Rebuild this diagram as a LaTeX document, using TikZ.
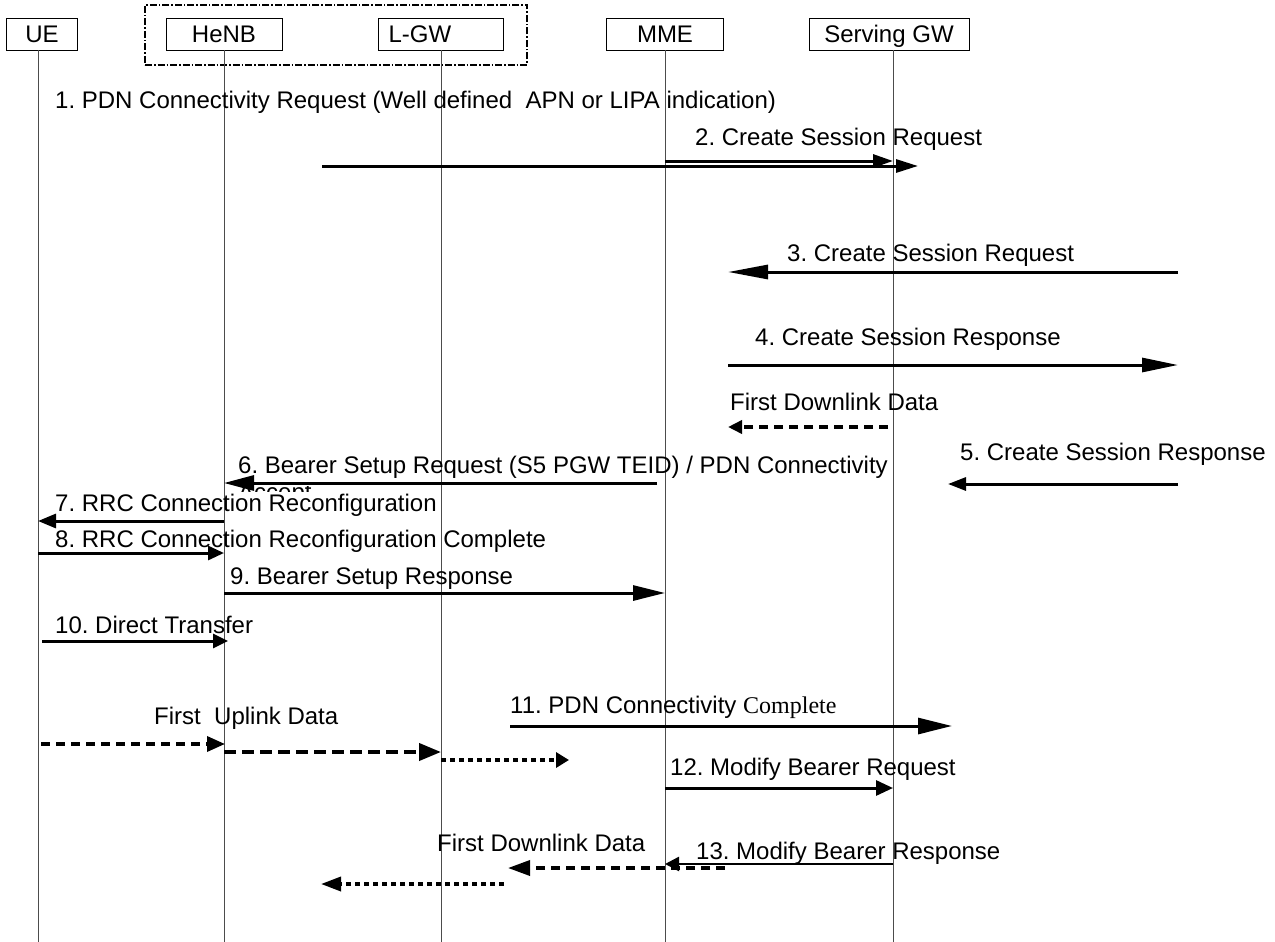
\documentclass[tikz,border=0pt]{standalone}
\usepackage{fontspec}
\setmainfont{Liberation Sans}
\newfontfamily\timesfont{Liberation Serif}
\usetikzlibrary{arrows.meta}
\frenchspacing
\begin{document}
\begin{tikzpicture}[x=1pt,y=-1pt,
  every node/.style={font=\fontsize{24}{28}\selectfont},
  entity/.style={draw, line width=0.8pt, minimum height=32pt, inner sep=0pt,
                 text height=20pt, text depth=3pt},
  group/.style={draw, line width=1.2pt, dash pattern=on 7pt off 2pt on 1.5pt off 2pt},
  life/.style={draw=black!70, line width=0.8pt},
  lbl/.style={anchor=base west, inner sep=0pt},
  msg/.style n args={2}{line width=3pt, -{Triangle[length=#1,width=#2]}},
  dmsg/.style n args={2}{line width=3.5pt, dash pattern=on 9pt off 6pt, -{Triangle[length=#1,width=#2]}},
  dotmsg/.style n args={2}{line width=3.5pt, dash pattern=on 5pt off 4pt, -{Triangle[length=#1,width=#2]}},
]
\useasboundingbox (0,0) rectangle (1275,942);

% entities
\node[group, minimum width=382pt, minimum height=60pt, inner sep=0pt] (loc) at (336,35) {};
\node[entity, minimum width=71pt] (ue) at (42,34) {UE};
\node[entity, minimum width=116pt] (henb) at (224,34) {HeNB};
\node[entity, minimum width=125pt, text width=105pt, align=left] (lgw) at (441,34) {L-GW};
\node[entity, minimum width=117pt] (mme) at (665,34) {MME};
\node[entity, minimum width=160pt] (sgw) at (889,34) {Serving GW};

% lifelines
\coordinate (ueb) at (38,942);
\coordinate (henbb) at (224,942);
\coordinate (lgwb) at (441,942);
\coordinate (mmeb) at (665,942);
\coordinate (sgwb) at (893,942);
\draw[life] (ue.south -| ueb) -- (ueb);
\draw[life] (henb.south) -- (henbb);
\draw[life] (lgw.south) -- (lgwb);
\draw[life] (mme.south) -- (mmeb);
\draw[life] (sgw.south -| sgwb) -- (sgwb);

% free ends of connectors
\coordinate (m1s) at (322,166);  \coordinate (m1e) at (918,166);
\coordinate (m3s) at (1178,272); \coordinate (m3e) at (728,272);
\coordinate (m4s) at (728,365);  \coordinate (m4e) at (1178,365);
\coordinate (d1s) at (888,427);  \coordinate (d1e) at (728,427);
\coordinate (m5s) at (1178,484); \coordinate (m5e) at (948,484);
\coordinate (m6s) at (657,483);
\coordinate (m10s) at (42,641);  \coordinate (m10e) at (228,641);
\coordinate (m11s) at (510,726); \coordinate (m11e) at (952,726);
\coordinate (u1s) at (41,744);   \coordinate (u1e) at (225,744);
\coordinate (u3e) at (569,760);
\coordinate (d2s) at (725,868);  \coordinate (d2e) at (508,868);
\coordinate (d3s) at (504,884);  \coordinate (d3e) at (321,884);

% labels
\node[lbl] (t1) at (55,108) {1. PDN Connectivity Request (Well defined\ \ APN or LIPA indication)};
\node[lbl] (t2) at (695,145) {2. Create Session Request};
\node[lbl] (t3) at (787,261) {3. Create Session Request};
\node[lbl] (t4) at (755,345) {4. Create Session Response};
\node[lbl] (tf1) at (730,410) {First Downlink Data};
\node[lbl] (t5) at (960,460) {5. Create Session Response};
\node[lbl] (t6) at (238,473) {6. Bearer Setup Request (S5 PGW TEID) / PDN Connectivity};
\begin{scope}
  \clip (230,486) rectangle (330,491);
  \node[lbl] (t6b) at (238,500) {Accept};
\end{scope}
\node[lbl] (t7) at (55,511) {7. RRC Connection Reconfiguration};
\node[lbl] (t8) at (55,547) {8. RRC Connection Reconfiguration Complete};
\node[lbl] (t9) at (230,584) {9. Bearer Setup Response};
\node[lbl] (t10) at (55,633) {10. Direct Transfer};
\node[lbl] (t11) at (510,713) {11. PDN Connectivity {\timesfont Complete}};
\node[lbl] (tu) at (154,724) {First\ \ Uplink Data};
\node[lbl] (t12) at (670,775) {12. Modify Bearer Request};
\node[lbl] (tf2) at (437,851) {First Downlink Data};
\node[lbl] (t13) at (696,859) {13. Modify Bearer Response};

% messages
\draw[msg={22pt}{13pt}] (m1s) -- (m1e);
\draw[msg={20pt}{13pt}] (mme |- 0,161) -- (sgwb |- 0,161);
\draw[msg={40pt}{14pt}] (m3s) -- (m3e);
\draw[msg={36pt}{14pt}] (m4s) -- (m4e);
\draw[dmsg={14pt}{13pt}] (d1s) -- (d1e);
\draw[msg={18pt}{13pt}] (m5s) -- (m5e);
\draw[msg={30pt}{15pt}] (m6s) -- (henb |- 0,483);
\draw[msg={18pt}{14pt}] (henb |- 0,521) -- (ueb |- 0,521);
\draw[msg={16pt}{14pt}] (ueb |- 0,553) -- (henb |- 0,553);
\draw[msg={32pt}{15pt}] (henb |- 0,593) -- (mme |- 0,593);
\draw[msg={15pt}{14pt}] (m10s) -- (m10e);
\draw[msg={34pt}{16pt}] (m11s) -- (m11e);
\draw[dmsg={18pt}{15pt}] (u1s) -- (u1e);
\draw[dmsg={22pt}{17pt}, line width=4pt, dash pattern=on 12pt off 6pt] (henb |- 0,752) -- (lgw |- 0,752);
\draw[dotmsg={13pt}{15pt}] (lgw |- 0,760) -- (u3e);
\draw[msg={17pt}{15pt}] (mme |- 0,788) -- (sgwb |- 0,788);
\draw[dmsg={22pt}{15pt}] (d2s) -- (d2e);
\draw[msg={14pt}{14pt}, line width=2.5pt] (sgwb |- 0,864) -- (mme |- 0,864);
\draw[dotmsg={20pt}{14pt}] (d3s) -- (d3e);
\end{tikzpicture}
\end{document}
